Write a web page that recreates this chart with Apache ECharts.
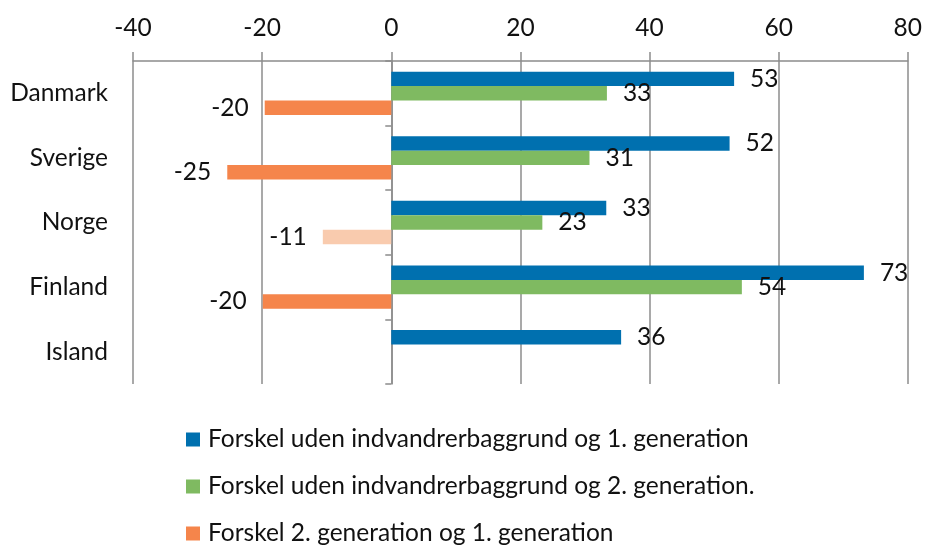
<!DOCTYPE html>
<html>
<head>
<meta charset="utf-8">
<script src="https://cdn.jsdelivr.net/npm/echarts@6/dist/echarts.min.js"></script>
<style>
html,body{margin:0;padding:0;background:#fff;}
#chart{width:925px;height:547px;}
</style>
</head>
<body>
<div id="chart"></div>
<script>
const categories = ['Danmark', 'Sverige', 'Norge', 'Finland', 'Island'];
const seriesNames = [
  'Forskel uden indvandrerbaggrund og 1. generation',
  'Forskel uden indvandrerbaggrund og 2. generation.',
  'Forskel 2. generation og 1. generation'
];
const gen1Values = [53.1, 52.4, 33.3, 73.2, 35.6];
const gen2Values = [33.4, 30.7, 23.4, 54.3, null];
const diffValues = [-19.6, -25.4, -10.6, -19.9, null];
const xTickMin = -40, xTickMax = 80, xTickStep = 20;

const FONT = 'Lato';
const FS = 24.5;
const GRID_COLOR = '#8c8c8c';
const colors = ['#0070AF', '#7FBA61', '#F5854B'];
const lightOrange = '#F9CBAE';

const labelStyle = {
  show: true,
  fontFamily: FONT,
  fontSize: FS,
  color: '#111',
  distance: 16,
  formatter: p => Math.round(p.value).toString()
};

const chart = echarts.init(document.getElementById('chart'));
chart.setOption({
  animation: false,
  textStyle: { fontFamily: FONT },
  grid: { left: 133, right: 16, top: 61, bottom: 163, containLabel: false },
  xAxis: {
    type: 'value',
    position: 'top',
    min: xTickMin, max: xTickMax, interval: xTickStep,
    axisLine: { show: true, onZero: false, lineStyle: { color: GRID_COLOR, width: 1.5 } },
    axisTick: { show: true, inside: false, length: 9, lineStyle: { color: GRID_COLOR, width: 1.5 } },
    axisLabel: { fontFamily: FONT, fontSize: FS, color: '#111', margin: 20 },
    splitLine: { show: true, lineStyle: { color: GRID_COLOR, width: 1.5 } }
  },
  yAxis: [
    {
      type: 'category',
      data: categories,
      inverse: true,
      position: 'left',
      axisLine: { show: false, onZero: false },
      axisTick: { show: false },
      axisLabel: { fontFamily: FONT, fontSize: FS, color: '#111', margin: 25 }
    },
    {
      type: 'category',
      data: categories,
      inverse: true,
      position: 'left',
      axisLine: { show: true, onZero: true, onZeroAxisIndex: 0, lineStyle: { color: GRID_COLOR, width: 1.5 } },
      axisTick: { show: true, length: 6, lineStyle: { color: GRID_COLOR, width: 1.5 } },
      axisLabel: { show: false }
    }
  ],
  legend: {
    orient: 'vertical',
    left: 186,
    top: 427,
    padding: 0,
    height: 160,
    itemWidth: 14,
    itemHeight: 14,
    itemGap: 22,
    icon: 'rect',
    textStyle: { fontFamily: FONT, fontSize: FS, color: '#111', padding: [0, 0, 0, 3] },
    data: seriesNames
  },
  series: [
    {
      name: seriesNames[0], type: 'bar', yAxisIndex: 0,
      data: gen1Values,
      itemStyle: { color: colors[0] },
      barGap: '0%', barCategoryGap: '33%',
      label: Object.assign({ position: 'right' }, labelStyle)
    },
    {
      name: seriesNames[1], type: 'bar', yAxisIndex: 0,
      data: gen2Values,
      itemStyle: { color: colors[1] },
      barGap: '0%', barCategoryGap: '33%',
      label: Object.assign({ position: 'right' }, labelStyle)
    },
    {
      name: seriesNames[2], type: 'bar', yAxisIndex: 0,
      data: diffValues.map((v, i) => categories[i] === 'Norge'
        ? { value: v, itemStyle: { color: lightOrange } }
        : v),
      itemStyle: { color: colors[2] },
      barGap: '0%', barCategoryGap: '33%',
      label: Object.assign({ position: 'left' }, labelStyle)
    }
  ]
});
</script>
</body>
</html>
